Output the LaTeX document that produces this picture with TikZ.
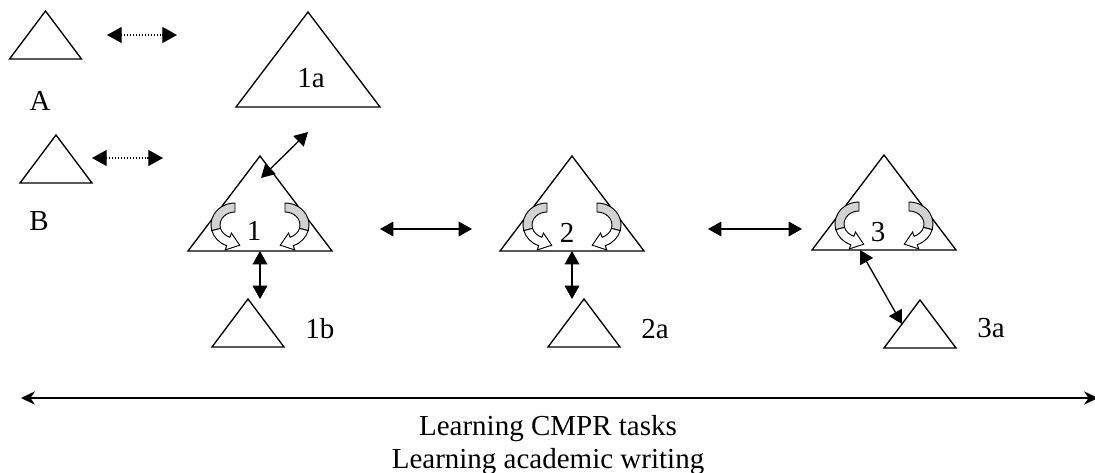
\documentclass[tikz,border=0pt]{standalone}
\usepackage{fontspec}
\setmainfont{Liberation Serif}
\usetikzlibrary{shapes.geometric,arrows.meta}

\tikzset{
  twist/.pic={
    \filldraw[fill=gray!35, line width=0.7pt] (-25,48) arc[start angle=90, end angle=195, x radius=24, y radius=22]
      -- (-39.49,22.64) arc[start angle=195, end angle=90, x radius=15, y radius=13] -- cycle;
    \filldraw[fill=white, line width=0.7pt] (-48.18,20.31) arc[start angle=195, end angle=250, x radius=24, y radius=22]
      -- (-34.75,1.1) -- (-20.3,5.8) -- (-28.59,18.0) -- (-30.13,13.78)
      arc[start angle=250, end angle=195, x radius=15, y radius=13] -- cycle;
  }
}

\begin{document}
\begin{tikzpicture}[
    x=0.75pt, y=0.75pt,
    tri/.style={isosceles triangle, isosceles triangle stretches, shape border rotate=90, draw, line width=1pt, inner sep=0pt, outer sep=0pt, anchor=lower side},
    bigtri/.style={tri, minimum width=108pt, minimum height=71.25pt},
    smalltri/.style={tri, minimum width=54pt, minimum height=36pt},
    lbl/.style={font=\fontsize{21.75}{25.5}\selectfont, inner sep=0pt},
    arrow/.style={{Triangle[length=10pt,width=11pt]}-{Triangle[length=10pt,width=11pt]}, line width=1pt},
    dotarrow/.style={{Triangle[length=11pt,width=12pt]}-{Triangle[length=11pt,width=12pt]}, line width=0.8pt, dash pattern=on 0.8pt off 1.4pt},
    longarrow/.style={{Stealth[length=10.5pt,width=10pt]}-{Stealth[length=10.5pt,width=10pt]}, line width=1.1pt}
]
    \useasboundingbox (0,0) rectangle (1095,-472);

    % triangles
    \node[smalltri] (tA) at (45.5,-59) {};
    \node[smalltri] (tB) at (56,-183) {};
    \node[bigtri] (t1a) at (308,-107) {};
    \node[bigtri] (t1) at (260,-251) {};
    \node[bigtri] (t2) at (572,-251) {};
    \node[bigtri] (t3) at (884,-250) {};
    \node[smalltri] (t1b) at (248,-347) {};
    \node[smalltri] (t2a) at (584,-347) {};
    \node[smalltri] (t3a) at (920,-348) {};

    % curls
    \pic at (t1.lower side) {twist};
    \pic[xscale=-1] at (t1.lower side) {twist};
    \pic at (t2.lower side) {twist};
    \pic[xscale=-1] at (t2.lower side) {twist};
    \pic at (t3.lower side) {twist};
    \pic[xscale=-1] at (t3.lower side) {twist};

    % labels
    \node[lbl, anchor=base] (lA) at (40,-110) {A};
    \node[lbl, anchor=base] (lB) at (39,-230) {B};
    \node[lbl, anchor=base] (l1a) at (311,-87) {1a};
    \node[lbl, anchor=base] (l1) at (254,-240) {1};
    \node[lbl, anchor=base] (l2) at (567,-242) {2};
    \node[lbl, anchor=base] (l3) at (878,-241) {3};
    \node[lbl, anchor=base west] (l1b) at (305,-338) {1b};
    \node[lbl, anchor=base west] (l2a) at (641,-338) {2a};
    \node[lbl, anchor=base west] (l3a) at (977,-337) {3a};
    \node[lbl, anchor=base] (tasks) at (548,-435) {Learning CMPR tasks};
    \node[lbl, anchor=base] (writing) at (548,-468) {Learning academic writing};

    % free ends
    \coordinate (dA1) at (107,-35);
    \coordinate (dA2) at (177,-35);
    \coordinate (dB1) at (92,-158);
    \coordinate (dB2) at (163,-158);
    \coordinate (c1a) at (308,-132);
    \coordinate (c1top) at (261,-178);
    \coordinate (m12a) at (380,-229);
    \coordinate (m12b) at (472,-229);
    \coordinate (m23a) at (708,-229);
    \coordinate (m23b) at (802,-229);
    \coordinate (spanL) at (21,-398);
    \coordinate (spanR) at (1098,-398);

    \draw[dotarrow] (dA1) -- (dA2);
    \draw[dotarrow] (dB1) -- (dB2);
    \draw[arrow] (c1a) -- (c1top);
    \draw[arrow] (m12a) -- (m12b);
    \draw[arrow] (m23a) -- (m23b);
    \draw[arrow] (t1.lower side) -- (t1.lower side |- t1b.apex);
    \draw[arrow] (t2.lower side) -- (t2.lower side |- t2a.apex);
    \draw[arrow] ([xshift=-18pt]t3.lower side) -- (t3a.left side);
    \draw[longarrow] (spanL) -- (spanR);
\end{tikzpicture}
\end{document}
